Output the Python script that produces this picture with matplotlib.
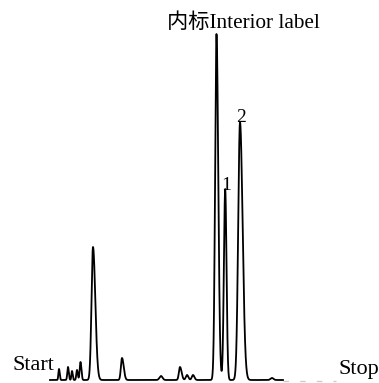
import numpy as np
import matplotlib
matplotlib.use("Agg")
import matplotlib.pyplot as plt

# Peak table (retention position, height, left/right widths)
peak_rt = [59, 68, 72, 77, 80.5, 93, 122, 161, 180, 187, 193, 216.5, 225.2, 240, 272]
peak_height = [11, 13, 9, 10, 18, 133, 22, 4, 13, 5, 5, 346, 191, 258, 2]
peak_sig_left = [0.6, 0.7, 0.6, 0.7, 0.8, 1.5, 1.1, 1.5, 1.1, 1.2, 1.2, 1.4, 1.3, 1.8, 1.5]
peak_sig_right = [0.7, 0.8, 0.7, 0.8, 0.9, 2.3, 1.7, 1.5, 1.6, 1.4, 1.4, 1.75, 1.3, 2.6, 1.5]
baseline_level = 3
run_start, run_end = 50, 283
trail_end = 336

labels = {"Start": "Start", "Stop": "Stop", "IS": "内标Interior label", "p1": "1", "p2": "2"}

x = np.linspace(run_start, run_end, 4000)
y = np.full_like(x, baseline_level, dtype=float)
for rt, h, sl, sr in zip(peak_rt, peak_height, peak_sig_left, peak_sig_right):
    s = np.where(x < rt, sl, sr)
    y += h * np.exp(-0.5 * ((x - rt) / s) ** 2)

fig = plt.figure(figsize=(3.79, 3.83), dpi=100)
ax = fig.add_axes([0, 0, 1, 1])
ax.set_xlim(0, 379)
ax.set_ylim(0, 383)
ax.axis("off")

ax.plot(x, y, color="black", lw=1.3, solid_joinstyle="round")
ax.plot([run_end, trail_end], [baseline_level - 1, baseline_level - 1], color="#cccccc",
        lw=1.0, ls=(0, (4, 8)))

fam = ["Liberation Serif", "Noto Sans CJK SC"]
ax.text(12, 13, labels["Start"], fontsize=16, family=fam, va="baseline", ha="left")
ax.text(339, 9, labels["Stop"], fontsize=16, family=fam, va="baseline", ha="left")
ax.text(243, 355, labels["IS"], fontsize=15.3, family=fam, va="baseline", ha="center")
ax.text(226, 193, labels["p1"], fontsize=14, family=fam, va="baseline", ha="center")
ax.text(241, 261, labels["p2"], fontsize=14, family=fam, va="baseline", ha="center")

fig.savefig("out.png", dpi=100)
